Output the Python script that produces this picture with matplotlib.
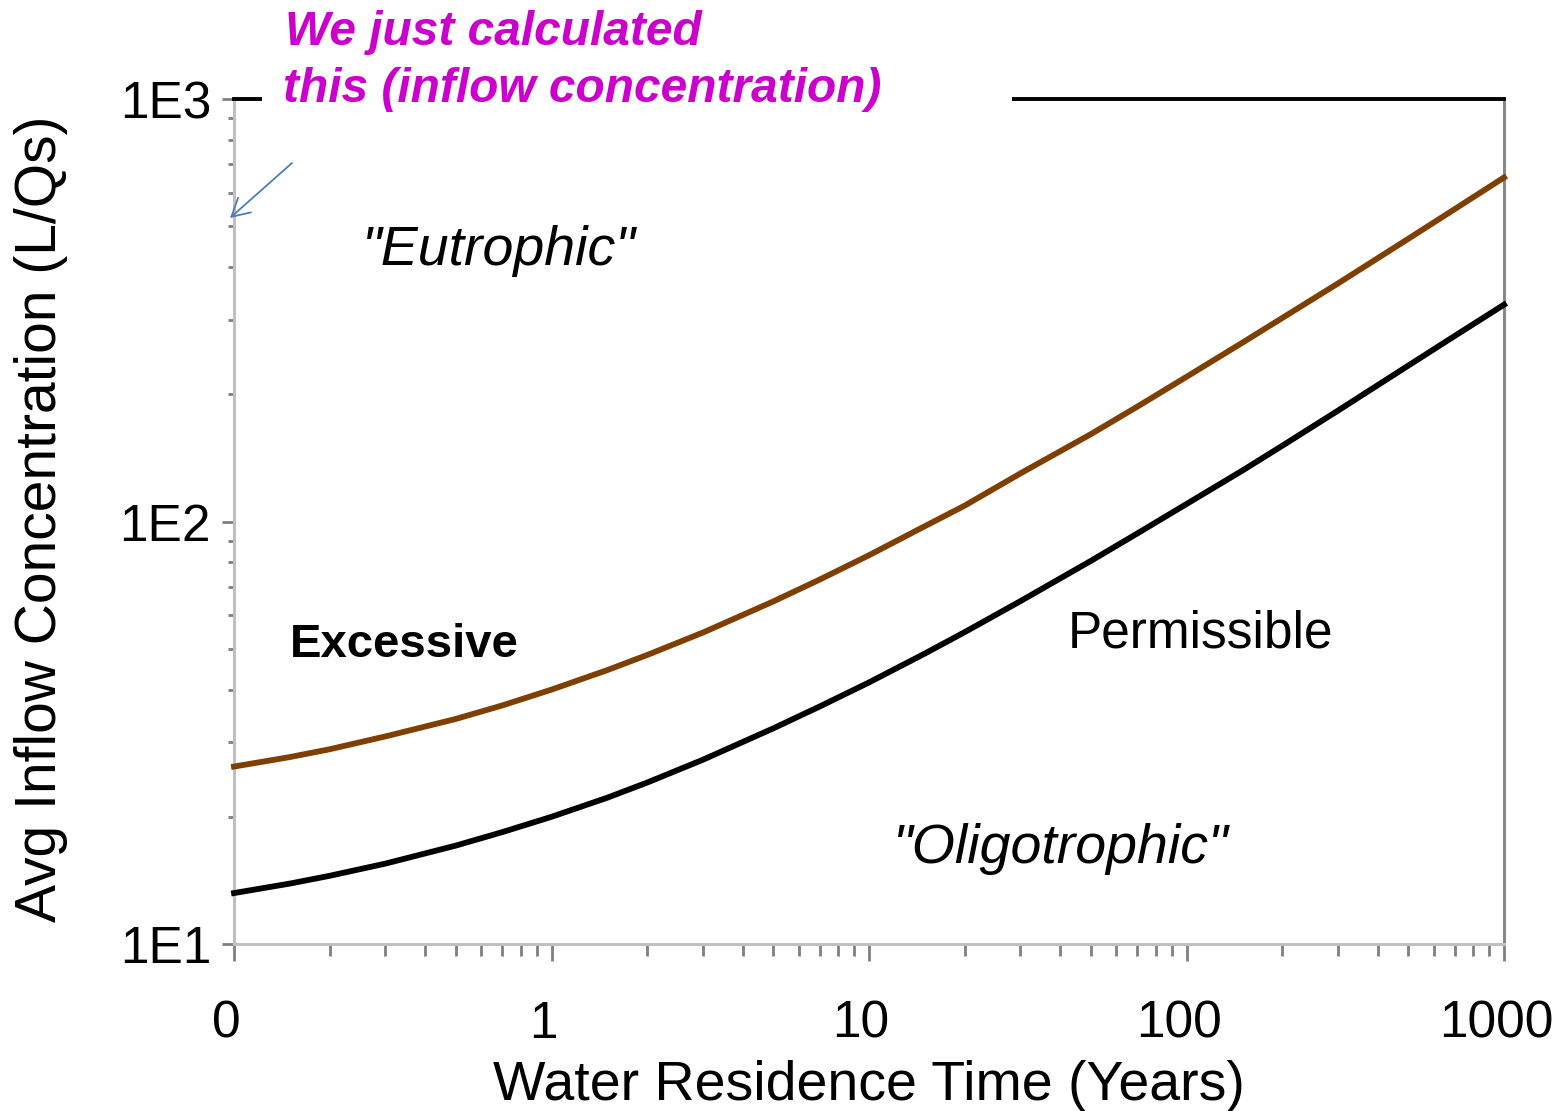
import matplotlib
matplotlib.use('Agg')
import matplotlib.pyplot as plt
import matplotlib.transforms as mtransforms
from matplotlib.patches import Rectangle, FancyArrowPatch
from matplotlib.ticker import FixedLocator, FixedFormatter, LogLocator, NullFormatter

# ---- data ----
tau = [0.1, 0.15, 0.2, 0.3, 0.5, 0.7, 1, 1.5, 2, 3, 5, 7, 10, 15, 20, 30, 50,
       70, 100, 150, 200, 300, 500, 700, 1000]
permissible = [13.2, 13.9, 14.5, 15.5, 17.1, 18.4, 20, 22.2, 24.1, 27.3, 32.4,
               36.5, 41.6, 48.7, 54.7, 64.8, 80.7, 93.7, 110, 132, 151, 183,
               234, 275, 326]
excessive = [26.3, 27.7, 28.9, 31.0, 34.1, 36.7, 40, 44.5, 48.3, 54.6, 64.7,
             72.9, 83.2, 97.5, 109, 130, 161, 187, 220, 265, 303, 366, 467,
             549, 652]

x_ticks = [0.1, 1, 10, 100, 1000]
x_tick_labels = ['0', '1', '10', '100', '1000']
y_ticks = [10, 100, 1000]
y_tick_labels = ['1E1', '1E2', '1E3']

W, H = 1558, 1111


def fx(px):
    return px / W


def fy(py):
    return 1 - py / H


plt.rcParams['font.family'] = ['Liberation Sans', 'DejaVu Sans']

fig = plt.figure(figsize=(W / 100, H / 100), dpi=100)
ax = fig.add_axes([fx(234), fy(944), (1504 - 234) / W, (944 - 99) / H])
ax.set_xscale('log')
ax.set_yscale('log')

ax.plot(tau, excessive, color='#7f3f00', lw=4.2, zorder=3, clip_on=False)
ax.plot(tau, permissible, color='black', lw=4.2, zorder=3, clip_on=False)

ax.set_xlim(0.1, 1000)
ax.set_ylim(10, 1000)

ax.xaxis.set_major_locator(FixedLocator(x_ticks))
ax.xaxis.set_major_formatter(FixedFormatter(x_tick_labels))
ax.yaxis.set_major_locator(FixedLocator(y_ticks))
ax.yaxis.set_major_formatter(FixedFormatter(y_tick_labels))
ax.xaxis.set_minor_locator(LogLocator(base=10, subs=range(2, 10), numticks=20))
ax.yaxis.set_minor_locator(LogLocator(base=10, subs=range(2, 10), numticks=20))
ax.xaxis.set_minor_formatter(NullFormatter())
ax.yaxis.set_minor_formatter(NullFormatter())

ax.tick_params(axis='x', which='major', direction='out', length=12, width=2,
               color='#808080', labelsize=37, pad=28)
ax.tick_params(axis='x', which='minor', direction='out', length=8.5, width=2,
               color='#808080')
ax.tick_params(axis='y', which='major', direction='out', length=8.5, width=2,
               color='#808080', labelsize=37, pad=8)
ax.tick_params(axis='y', which='minor', direction='out', length=4, width=2,
               color='#808080')

offset = mtransforms.ScaledTranslation(-8 / 100, 0, fig.dpi_scale_trans)
for lab in ax.get_xticklabels():
    lab.set_transform(lab.get_transform() + offset)

ax.spines['left'].set_color('#c0c0c0')
ax.spines['bottom'].set_color('#c0c0c0')
ax.spines['right'].set_color('#888888')
ax.spines['top'].set_color('black')
ax.spines['left'].set_linewidth(2.2)
ax.spines['bottom'].set_linewidth(2.2)
ax.spines['right'].set_linewidth(2.2)
ax.spines['top'].set_linewidth(2.8)

# axis labels
fig.text(fx(869), fy(1086), 'Water Residence Time (Years)', fontsize=40,
         ha='center', va='center')
fig.text(fx(41), fy(519), 'Avg Inflow Concentration (L/Qs)', fontsize=41,
         ha='center', va='center', rotation=90)

# region labels
fig.text(fx(362), fy(265), '"Eutrophic"', fontsize=40, fontstyle='italic',
         ha='left', va='baseline')
fig.text(fx(290), fy(657), 'Excessive', fontsize=34, fontweight='bold',
         ha='left', va='baseline')
fig.text(fx(1068), fy(648), 'Permissible', fontsize=37,
         ha='left', va='baseline')
fig.text(fx(893), fy(863), '"Oligotrophic"', fontsize=40, fontstyle='italic',
         ha='left', va='baseline')

# white text box covering part of the top border
fig.add_artist(Rectangle((fx(262), fy(112)), (1012 - 262) / W, 112 / H,
                         transform=fig.transFigure, facecolor='white',
                         edgecolor='none', zorder=5))

fig.text(fx(285), fy(45), 'We just calculated', fontsize=34.5, fontweight='bold',
         fontstyle='italic', color='#cc00cc', ha='left', va='baseline', zorder=10)
fig.text(fx(283), fy(102), 'this (inflow concentration)', fontsize=34.5,
         fontweight='bold', fontstyle='italic', color='#cc00cc', ha='left',
         va='baseline', zorder=10)

fig.add_artist(FancyArrowPatch(posA=(fx(292), fy(163)), posB=(fx(230), fy(218)),
                               transform=fig.transFigure,
                               arrowstyle='->,head_length=0.45,head_width=0.25',
                               mutation_scale=28, color='#4a7ebb', lw=1.3,
                               shrinkA=0, shrinkB=0, zorder=10))

fig.savefig('out.png', dpi=100, facecolor='white')
